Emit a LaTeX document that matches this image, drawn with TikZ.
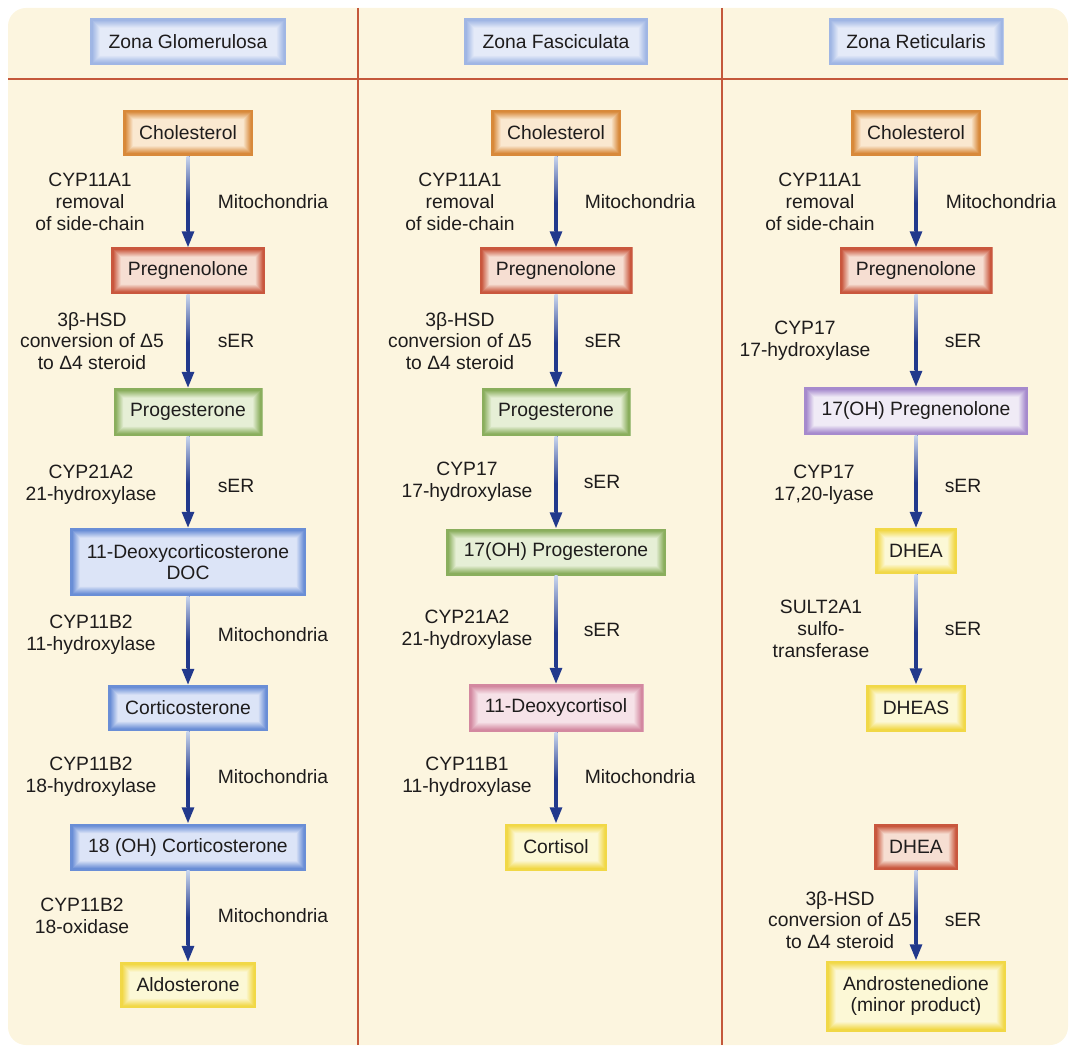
\documentclass[tikz,border=0pt]{standalone}
\usepackage{fontspec}
\setmainfont{Liberation Sans}
\usetikzlibrary{calc,arrows.meta}
\definecolor{bgc}{HTML}{FCF5DF}
\definecolor{rulec}{HTML}{C4583B}
\definecolor{txt}{HTML}{1E1C1C}
\definecolor{hdB}{HTML}{A0B6E4}\definecolor{hdL}{HTML}{E4EAF8}
\definecolor{orB}{HTML}{D8893A}\definecolor{orL}{HTML}{FAE8D0}
\definecolor{rdB}{HTML}{C9573E}\definecolor{rdL}{HTML}{F6DED2}
\definecolor{gnB}{HTML}{8AAE5D}\definecolor{gnL}{HTML}{E6EFD6}
\definecolor{blB}{HTML}{6A8ED6}\definecolor{blL}{HTML}{DCE4F7}
\definecolor{pkB}{HTML}{D388A0}\definecolor{pkL}{HTML}{F6E2E8}
\definecolor{puB}{HTML}{A68ACD}\definecolor{puL}{HTML}{F0EBF6}
\definecolor{ywB}{HTML}{F1D847}\definecolor{ywL}{HTML}{FCF8D6}
\definecolor{arrL}{HTML}{C9D6EE}
\definecolor{arrD}{HTML}{22398C}
\pgfdeclareverticalshading{flowsh}{100bp}{color(0bp)=(arrD); color(25bp)=(arrD); color(44bp)=(arrD); color(75bp)=(arrL); color(100bp)=(arrL)}
\tikzset{
  glow/.style 2 args={fill=#2, path picture={
    \foreach \k in {0,...,20}{
      \pgfmathtruncatemacro\pc{max(0,min(100,100-(\k-4)*6.5))}
      \fill[#1!\pc!#2] ($(path picture bounding box.south west)+(\k*0.5pt,\k*0.5pt)$) rectangle ($(path picture bounding box.north east)-(\k*0.5pt,\k*0.5pt)$);
    }}},
  box/.style n args={3}{glow={#1}{#2}, minimum width=#3, minimum height=46pt, inner sep=0pt, align=center, text=txt},
  lab/.style={align=center, text=txt, inner sep=0pt},
  flowline/.style={draw=arrD, line width=3pt, -{Triangle[length=16pt,width=12pt]}},
}
\newcommand\flowarrow[2]{%
  \draw[flowline] (#1.south) -- (#2.north);
  \shade[shading=flowsh] ($(#1.south)+(-1.5pt,0)$) rectangle ($(#2.north)+(1.5pt,16pt)$);
}
\begin{document}
\begin{tikzpicture}[x=1pt,y=-1pt, font=\fontsize{19.3}{21.7}\selectfont]
\useasboundingbox (0,0) rectangle (1076,1048);
\fill[bgc, rounded corners=18pt] (8,8) rectangle (1068,1045);
\draw[rulec, line width=2.8pt] (8,79) -- (1068,79);
\draw[rulec, line width=2.8pt] (358,8) -- (358,1045);
\draw[rulec, line width=2.8pt] (722,8) -- (722,1045);

% headers
\node[box={hdB}{hdL}{196pt}, minimum height=47pt] (h1) at (188,42) {Zona Glomerulosa};
\node[box={hdB}{hdL}{184pt}, minimum height=47pt] (h2) at (556,42) {Zona Fasciculata};
\node[box={hdB}{hdL}{175pt}, minimum height=47pt] (h3) at (916,42) {Zona Reticularis};

% column 1
\node[box={orB}{orL}{130pt}] (c1) at (188,133) {Cholesterol};
\node[box={rdB}{rdL}{154pt}, minimum height=47pt] (p1) at (188,271) {Pregnenolone};
\node[box={gnB}{gnL}{149pt}, minimum height=48pt] (g1) at (188,412) {Progesterone};
\node[box={blB}{blL}{236pt}, minimum height=68pt] (d1) at (188,562) {11-Deoxycorticosterone\\DOC};
\node[box={blB}{blL}{160pt}] (k1) at (188,708) {Corticosterone};
\node[box={blB}{blL}{236pt}, minimum height=47pt] (o1) at (188,847) {18 (OH) Corticosterone};
\node[box={ywB}{ywL}{136pt}] (a1) at (188,985) {Aldosterone};

\flowarrow{c1}{p1}
\flowarrow{p1}{g1}
\flowarrow{g1}{d1}
\flowarrow{d1}{k1}
\flowarrow{k1}{o1}
\flowarrow{o1}{a1}

\node[lab] (l11) at (90,202) {CYP11A1\\removal\\of side-chain};
\node[lab] (r11) at (273,202) {Mitochondria};
\node[lab] (l12) at (92,341) {3β-HSD\\conversion of Δ5\\to Δ4 steroid};
\node[lab] (r12) at (236,341) {sER};
\node[lab] (l13) at (91,485) {CYP21A2\\21-hydroxylase};
\node[lab] (r13) at (236,486) {sER};
\node[lab] (l14) at (91,635) {CYP11B2\\11-hydroxylase};
\node[lab] (r14) at (273,635) {Mitochondria};
\node[lab] (l15) at (91,777) {CYP11B2\\18-hydroxylase};
\node[lab] (r15) at (273,777) {Mitochondria};
\node[lab] (l16) at (82,916) {CYP11B2\\18-oxidase};
\node[lab] (r16) at (273,916) {Mitochondria};

% column 2
\node[box={orB}{orL}{130pt}] (c2) at (556,133) {Cholesterol};
\node[box={rdB}{rdL}{153pt}, minimum height=47pt] (p2) at (556,271) {Pregnenolone};
\node[box={gnB}{gnL}{149pt}, minimum height=48pt] (g2) at (556,412) {Progesterone};
\node[box={gnB}{gnL}{220pt}, minimum height=47pt] (q2) at (556,552) {17(OH) Progesterone};
\node[box={pkB}{pkL}{175pt}, minimum height=48pt] (e2) at (556,708) {11-Deoxycortisol};
\node[box={ywB}{ywL}{102pt}, minimum height=47pt] (f2) at (556,847) {Cortisol};

\flowarrow{c2}{p2}
\flowarrow{p2}{g2}
\flowarrow{g2}{q2}
\flowarrow{q2}{e2}
\flowarrow{e2}{f2}

\node[lab] (l21) at (460,202) {CYP11A1\\removal\\of side-chain};
\node[lab] (r21) at (640,202) {Mitochondria};
\node[lab] (l22) at (460,341) {3β-HSD\\conversion of Δ5\\to Δ4 steroid};
\node[lab] (r22) at (603,341) {sER};
\node[lab] (l23) at (467,482) {CYP17\\17-hydroxylase};
\node[lab] (r23) at (602,482) {sER};
\node[lab] (l24) at (467,630) {CYP21A2\\21-hydroxylase};
\node[lab] (r24) at (602,630) {sER};
\node[lab] (l25) at (467,777) {CYP11B1\\11-hydroxylase};
\node[lab] (r25) at (640,777) {Mitochondria};

% column 3
\node[box={orB}{orL}{130pt}] (c3) at (916,133) {Cholesterol};
\node[box={rdB}{rdL}{153pt}, minimum height=47pt] (p3) at (916,271) {Pregnenolone};
\node[box={puB}{puL}{224pt}, minimum height=48pt] (r3) at (916,411) {17(OH) Pregnenolone};
\node[box={ywB}{ywL}{82pt}] (d3) at (916,551) {DHEA};
\node[box={ywB}{ywL}{100pt}, minimum height=47pt] (s3) at (916,708) {DHEAS};
\node[box={rdB}{rdL}{84pt}] (x3) at (916,847) {DHEA};
\node[box={ywB}{ywL}{180pt}, minimum height=71pt] (n3) at (916,996) {Androstenedione\\(minor product)};

\flowarrow{c3}{p3}
\flowarrow{p3}{r3}
\flowarrow{r3}{d3}
\flowarrow{d3}{s3}
\flowarrow{x3}{n3}

\node[lab] (l31) at (820,202) {CYP11A1\\removal\\of side-chain};
\node[lab] (r31) at (1001,202) {Mitochondria};
\node[lab] (l32) at (805,341) {CYP17\\17-hydroxylase};
\node[lab] (r32) at (963,341) {sER};
\node[lab] (l33) at (824,485) {CYP17\\17,20-lyase};
\node[lab] (r33) at (963,486) {sER};
\node[lab] (l34) at (821,629) {SULT2A1\\sulfo-\\transferase};
\node[lab] (r34) at (963,629) {sER};
\node[lab] (l35) at (840,920) {3β-HSD\\conversion of Δ5\\to Δ4 steroid};
\node[lab] (r35) at (963,920) {sER};
\end{tikzpicture}
\end{document}
